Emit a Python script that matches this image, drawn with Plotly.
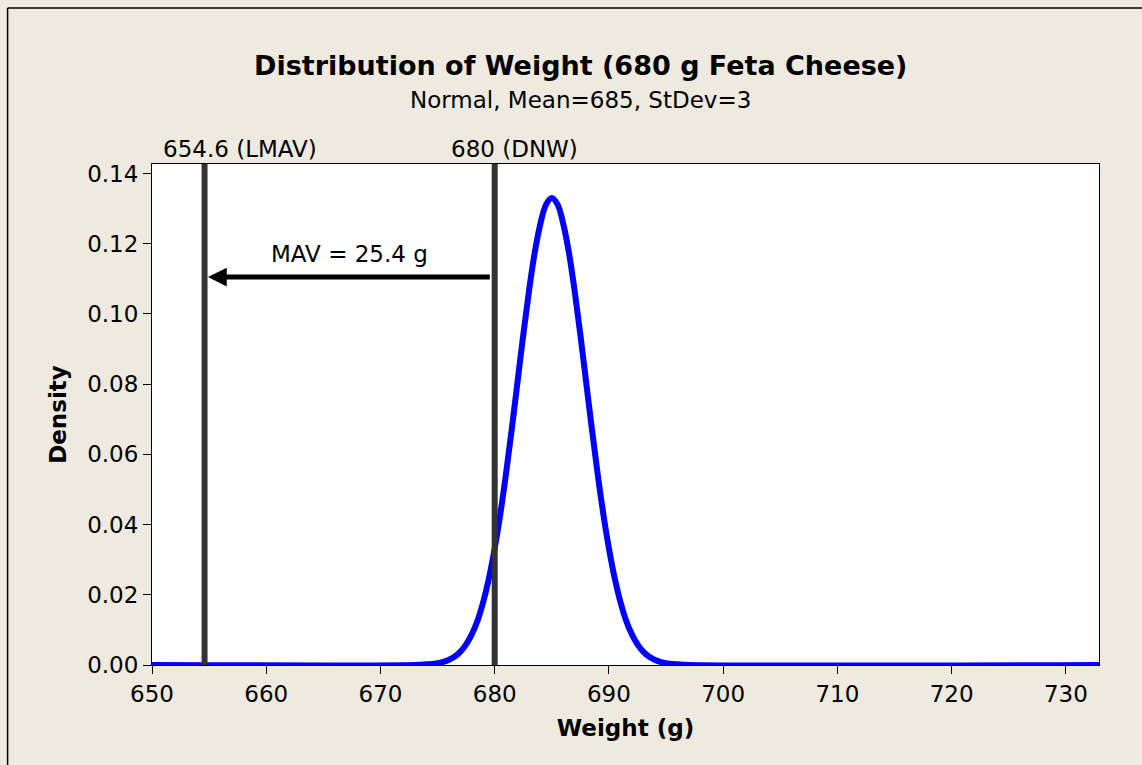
import plotly.graph_objects as go

# Curve values
weight = [650, 673, 674, 675, 675.5, 676, 676.5, 677, 677.5, 678, 678.5, 679, 679.5,
          680, 680.5, 681, 681.5, 682, 682.5, 683, 683.5, 684, 684.5, 685,
          685.5, 686, 686.5, 687, 687.5, 688, 688.5, 689, 689.5, 690, 690.5,
          691, 691.5, 692, 692.5, 693, 693.5, 694, 694.5, 695, 696, 697, 733]
density = [0, 0.0000, 0.0002, 0.0005, 0.0009, 0.0015, 0.0024, 0.0038, 0.0059, 0.0088,
           0.0127, 0.0180, 0.0248, 0.0332, 0.0432, 0.0547, 0.0674, 0.0807, 0.0940,
           0.1065, 0.1174, 0.1257, 0.1312, 0.1330,
           0.1312, 0.1257, 0.1174, 0.1065, 0.0940, 0.0807, 0.0674, 0.0547, 0.0432,
           0.0332, 0.0248, 0.0180, 0.0127, 0.0088, 0.0059, 0.0038, 0.0024, 0.0015,
           0.0009, 0.0005, 0.0002, 0.0000, 0]

ref_values = [654.6, 680]
ref_labels = ["654.6 (LMAV)", "680 (DNW)"]
mav_text = "MAV = 25.4 g"
mav_level = 0.1105
x_ticks = [650, 660, 670, 680, 690, 700, 710, 720, 730]
y_ticks = [0.00, 0.02, 0.04, 0.06, 0.08, 0.10, 0.12, 0.14]

FONT = "DejaVu Sans"
BG = "#EEEAE0"
X_RANGE = [650, 732.9]
Y_RANGE = [0, 0.1427]
FS = 23

fig = go.Figure()
fig.add_trace(go.Scatter(x=weight, y=density, mode="lines",
                         line=dict(color="#0000FF", width=6, shape="spline", smoothing=1.0),
                         showlegend=False, hoverinfo="skip"))

shapes = []
for v in ref_values:
    shapes.append(dict(type="line", xref="x", yref="y domain", x0=v, x1=v, y0=0, y1=1,
                       line=dict(color="#333333", width=6), layer="above"))
# outer frame (left and top edges visible)
shapes.append(dict(type="line", xref="paper", yref="paper", x0=-0.1525, x1=-0.1525,
                   y0=-0.5, y1=1.3115, line=dict(color="black", width=1.5)))
shapes.append(dict(type="line", xref="paper", yref="paper", x0=-0.1525, x1=1.5,
                   y0=1.3115, y1=1.3115, line=dict(color="black", width=1.5)))

annotations = [
    dict(text="<b>Distribution of Weight (680 g Feta Cheese)</b>", xref="paper", yref="paper",
         x=0.452, y=1.197, showarrow=False, font=dict(family=FONT, size=27, color="black"),
         xanchor="center", yanchor="middle"),
    dict(text="Normal, Mean=685, StDev=3", xref="paper", yref="paper",
         x=0.452, y=1.128, showarrow=False, font=dict(family=FONT, size=FS, color="black"),
         xanchor="center", yanchor="middle"),
    dict(text=ref_labels[0], xref="x", yref="paper", x=657.7, y=1.0, yanchor="bottom",
         showarrow=False, font=dict(family=FONT, size=FS, color="black")),
    dict(text=ref_labels[1], xref="x", yref="paper", x=681.7, y=1.0, yanchor="bottom",
         showarrow=False, font=dict(family=FONT, size=FS, color="black")),
    dict(text=mav_text, xref="x", yref="y", x=(ref_values[0] + ref_values[1]) / 2,
         y=0.1172, showarrow=False, font=dict(family=FONT, size=FS, color="black")),
    dict(text="", xref="x", yref="y", axref="x", ayref="y",
         x=ref_values[0] + 0.3, y=mav_level, ax=ref_values[1] - 0.3, ay=mav_level,
         showarrow=True, arrowhead=2, arrowsize=0.75, arrowwidth=5, arrowcolor="black",
         standoff=0, startstandoff=0),
]

fig.update_layout(
    width=1142, height=765,
    margin=dict(l=152, r=43, t=164, b=100),
    paper_bgcolor=BG, plot_bgcolor="white",
    font=dict(family=FONT, size=FS, color="black"),
    shapes=shapes, annotations=annotations,
    xaxis=dict(range=X_RANGE, tickvals=x_ticks, ticks="outside", ticklen=8,
               tickcolor="black", showline=True, linecolor="black", linewidth=1,
               mirror=True, showgrid=False, zeroline=False,
               tickfont=dict(family=FONT, size=FS),
               title=dict(text="<b>Weight (g)</b>", font=dict(family=FONT, size=FS),
                          standoff=14)),
    yaxis=dict(range=Y_RANGE, tickvals=y_ticks, tickformat=".2f", ticks="outside",
               ticklen=8, tickcolor="black", showline=True, linecolor="black",
               linewidth=1, mirror=True, showgrid=False, zeroline=False,
               tickfont=dict(family=FONT, size=FS),
               title=dict(text="<b>Density</b>", font=dict(family=FONT, size=FS),
                          standoff=14)),
)

fig.write_html("out.html", config={"displayModeBar": False},
               post_script="document.body.style.margin='0';document.body.style.overflow='hidden';")
